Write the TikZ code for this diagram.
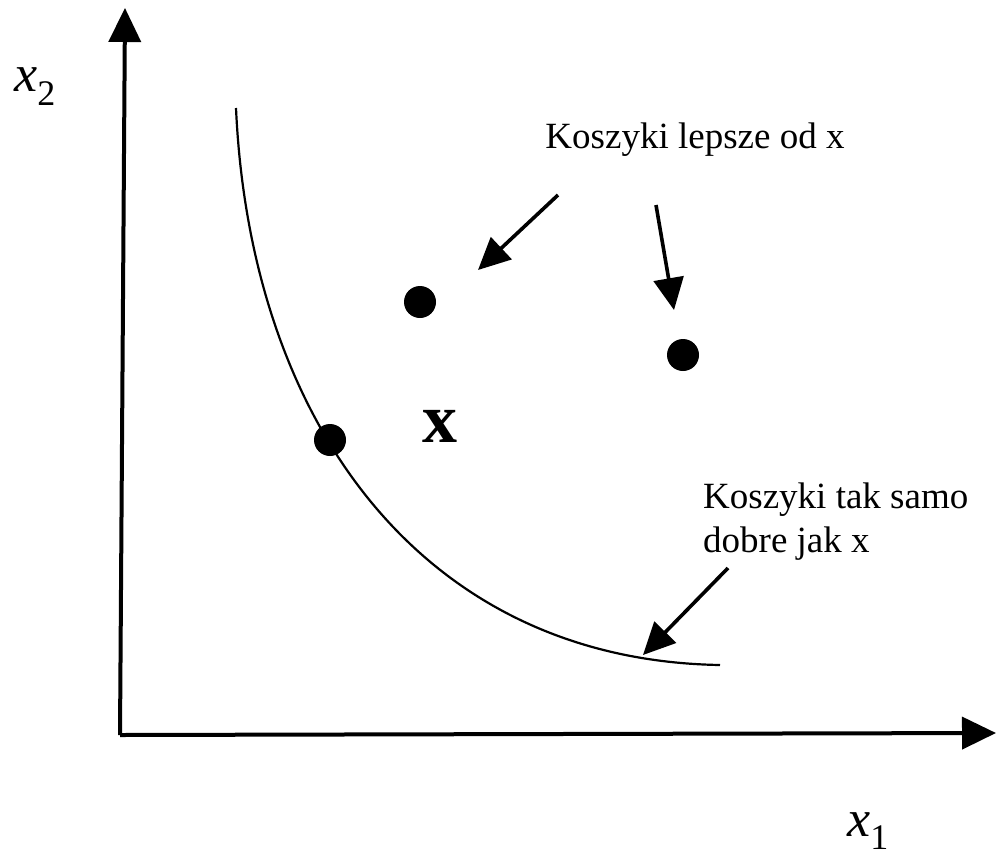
\documentclass[tikz,border=0pt]{standalone}
\usepackage{fontspec}
\setmainfont{Liberation Serif}
\usetikzlibrary{arrows.meta}
\begin{document}
\begin{tikzpicture}[x=1pt,y=-1pt,
  axis/.style={line width=4pt,-{Triangle[length=34pt,width=32pt]}},
  pointer/.style={line width=3.6pt,-{Triangle[length=32pt,width=30pt]}},
  dot/.style={circle,fill=black,inner sep=0pt,minimum size=32pt},
  axlbl/.style={inner sep=0pt,anchor=base west,font=\fontsize{52}{54}\selectfont},
  lbl/.style={font=\fontsize{37}{44}\selectfont,align=left,inner sep=0pt}]
\useasboundingbox (0,0) rectangle (996,855);
\coordinate (o) at (120,735);
\coordinate (ytip) at (125,8);
\coordinate (xtip) at (996,733);
\draw[axis] (o) -- (ytip);
\draw[axis] (o) -- (xtip);
\node[axlbl] (x2) at (14,91) {\textit{x}\raisebox{-14pt}{\fontsize{36}{36}\selectfont 2}};
\node[axlbl] (x1) at (847,836) {\textit{x}\raisebox{-13pt}{\fontsize{36}{36}\selectfont 1}};
\coordinate (cs) at (236,108);
\coordinate (ce) at (720,665);
\draw[line width=2.2pt] (cs) .. controls (250,420) and (420,660) .. (ce);
\node[dot] (d1) at (420,302) {};
\node[dot] (d2) at (683,355) {};
\node[dot] (d3) at (330,440) {};
\node[inner sep=0pt,anchor=base] (xb) at (440,442) {\fontsize{70}{70}\selectfont\bfseries x};
\node[lbl,anchor=base] (t1) at (695,148) {Koszyki lepsze od x};
\node[lbl,anchor=base west] (t2) at (703,552) {Koszyki tak samo\\dobre jak x};
\coordinate (a1s) at (558,195);
\coordinate (a1e) at (478,270);
\coordinate (a2s) at (656,205);
\coordinate (a2e) at (674,310);
\coordinate (a3s) at (728,568);
\coordinate (a3e) at (643,655);
\draw[pointer] (a1s) -- (a1e);
\draw[pointer] (a2s) -- (a2e);
\draw[pointer] (a3s) -- (a3e);
\end{tikzpicture}
\end{document}
